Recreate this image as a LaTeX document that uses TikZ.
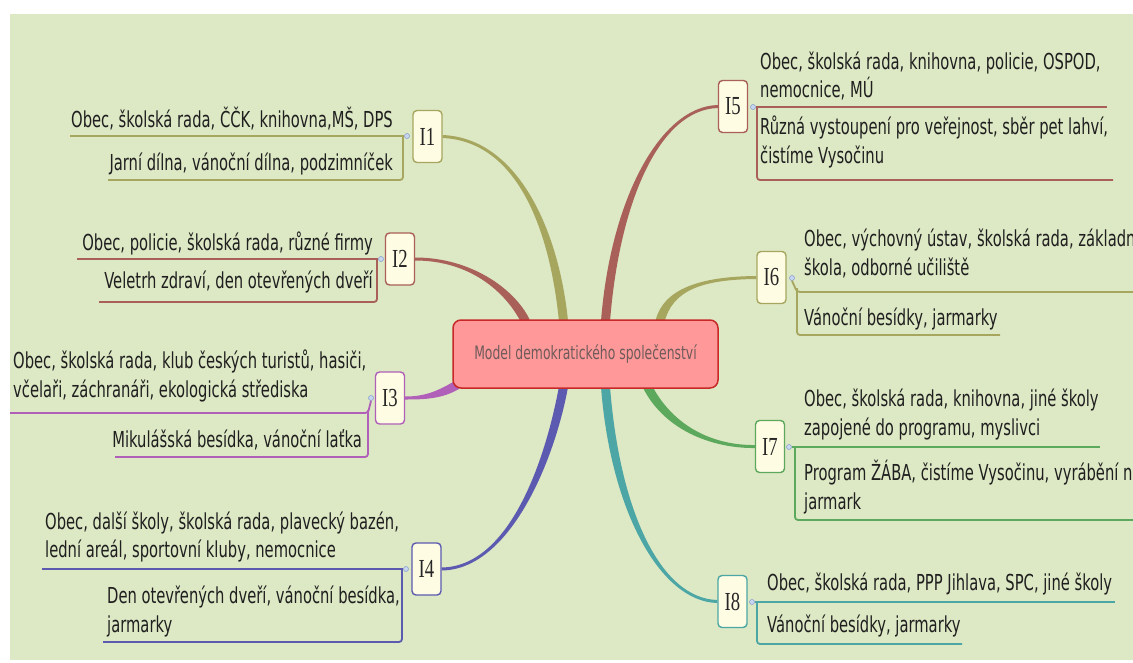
\documentclass[tikz,border=0pt]{standalone}
\usepackage{fontspec}
\setmainfont{DejaVu Sans}
\newfontfamily\itemfont{DejaVu Sans}[FakeStretch=0.67]
\newfontfamily\topicfont{Liberation Serif}[FakeStretch=0.72]
\usetikzlibrary{calc}

\definecolor{paper}{RGB}{221,232,196}
\definecolor{olive}{RGB}{166,166,94}
\definecolor{rust}{RGB}{168,96,88}
\definecolor{plum}{RGB}{176,96,184}
\definecolor{indigo}{RGB}{92,90,176}
\definecolor{leaf}{RGB}{92,168,92}
\definecolor{teal}{RGB}{76,166,166}
\definecolor{cream}{RGB}{255,252,228}
\definecolor{rosefill}{RGB}{255,153,153}
\definecolor{roseedge}{RGB}{200,40,40}
\definecolor{centretext}{RGB}{110,90,90}
\definecolor{knobfill}{RGB}{200,214,240}
\definecolor{knobedge}{RGB}{130,155,205}

\pgfdeclarelayer{backdrop}
\pgfdeclarelayer{branches}
\pgfsetlayers{backdrop,branches,main}

\tikzset{
  item/.style={inner sep=0pt, align=left, text=black!88,
    font=\itemfont\fontsize{22}{28.5}\selectfont},
  topic/.style={draw=#1, fill=cream, rounded corners=4pt, line width=1.4pt,
    minimum width=29pt, minimum height=52pt, inner sep=0pt,
    font=\topicfont\fontsize{26}{26}\selectfont, text=black!85},
  centre/.style={draw=roseedge, fill=rosefill, rounded corners=8pt,
    line width=1.5pt, minimum width=265pt, minimum height=68pt,
    font=\itemfont\fontsize{18.5}{20}\selectfont, text=centretext},
  uline/.style={draw=#1, line width=1.8pt, rounded corners=3pt},
  knob/.style={circle, draw=knobedge, fill=knobfill, inner sep=0pt,
    minimum size=5pt, line width=0.5pt},
}

% tapered branch: colour, start, control 1, control 2, end
\newcommand\branchto[5]{%
  \coordinate (sA) at ($(#2)!4.5pt!90:(#3)$);
  \coordinate (sB) at ($(#2)!4.5pt!-90:(#3)$);
  \coordinate (eA) at ($(#5)!1.5pt!-90:(#4)$);
  \coordinate (eB) at ($(#5)!1.5pt!90:(#4)$);
  \coordinate (kA1) at ($(#3)+(sA)-(#2)$);
  \coordinate (kB1) at ($(#3)+(sB)-(#2)$);
  \coordinate (kA2) at ($(#4)+(eA)-(#5)$);
  \coordinate (kB2) at ($(#4)+(eB)-(#5)$);
  \fill[#1] (sA) .. controls (kA1) and (kA2) .. (eA) -- (eB)
    .. controls (kB2) and (kB1) .. (sB) -- cycle;
}

\begin{document}
\begin{tikzpicture}[x=1pt, y=-1pt]
\clip (0,0) rectangle (1133,662);
\begin{pgfonlayer}{backdrop}
  \fill[white] (0,0) rectangle (1133,662);
  \fill[paper] (10,14) rectangle (1133,660);
\end{pgfonlayer}

% central topic
\node[centre] (c) at (585.5,354) {Model demokratického společenství};

% main topics
\node[topic=olive]  (i1) at (427.5,136.5) {I1};
\node[topic=rust]   (i2) at (400,259)     {I2};
\node[topic=plum]   (i3) at (390,398)     {I3};
\node[topic=indigo] (i4) at (426.5,569)   {I4};
\node[topic=rust]   (i5) at (733,106.5)   {I5};
\node[topic=olive]  (i6) at (771.5,277.5) {I6};
\node[topic=leaf]   (i7) at (770,446.5)   {I7};
\node[topic=teal]   (i8) at (732.5,601.5) {I8};

% branches from the centre
\begin{pgfonlayer}{branches}
  \coordinate (b1) at ($(c.north)+(-22,2)$);
  \coordinate (b2) at ($(c.north)+(-60,2)$);
  \coordinate (b3) at ($(c.south west)+(5,-4)$);
  \coordinate (b4) at ($(c.south)+(-22,-2)$);
  \coordinate (b5) at ($(c.north)+(20,2)$);
  \coordinate (b6) at ($(c.north)+(74.5,2)$);
  \coordinate (b7) at ($(c.south)+(62,-2)$);
  \coordinate (b8) at ($(c.south)+(20,-2)$);
  \branchto{olive}{b1}{555,235}{520,140}{i1.east}
  \branchto{rust}{b2}{510,290}{470,259}{i2.east}
  \branchto{plum}{b3}{440,395}{425,398}{i3.east}
  \branchto{indigo}{b4}{550,460}{510,568}{i4.east}
  \branchto{rust}{b5}{615,200}{660,108}{i5.west}
  \branchto{olive}{b6}{668,290}{700,278}{i6.west}
  \branchto{leaf}{b7}{670,430}{715,447}{i7.west}
  \branchto{teal}{b8}{615,510}{660,600}{i8.west}
\end{pgfonlayer}

% I1
\node[item, anchor=base east] (t1a) at (393,127) {Obec, školská rada, ČČK, knihovna,MŠ, DPS};
\node[item, anchor=base east] (t1b) at (393,170) {Jarní dílna, vánoční dílna, podzimníček};
\node[knob] (k1) at (407,136) {};
\draw[uline=olive] (k1.west) -- (70,136);
\draw[uline=olive] (403,136) -- (403,180) -- (108,180);

% I2
\node[item, anchor=base east] (t2a) at (373,250) {Obec, policie, školská rada, různé firmy};
\node[item, anchor=base east] (t2b) at (373,288) {Veletrh zdraví, den otevřených dveří};
\node[knob] (k2) at (381,259) {};
\draw[uline=rust] (k2.west) -- (77,259);
\draw[uline=rust] (377,259) -- (377,302) -- (99,302);

% I3
\node[item, anchor=base west] (t3a) at (13,397) {Obec, školská rada, klub českých turistů, hasiči,\\včelaři, záchranáři, ekologická střediska};
\node[item, anchor=base east] (t3b) at (362,447) {Mikulášská besídka, vánoční laťka};
\node[knob] (k3) at (371,398) {};
\draw[uline=plum] (k3.south) -- (368,413) -- (10,413);
\draw[uline=plum] (368,410) -- (368,457) -- (115,457);

% I4
\node[item, anchor=base west] (t4a) at (45,557.5) {Obec, další školy, školská rada, plavecký bazén,\\lední areál, sportovní kluby, nemocnice};
\node[item, anchor=base west] (t4b) at (107,632) {Den otevřených dveří, vánoční besídka,\\jarmarky};
\node[knob] (k4) at (406,569) {};
\draw[uline=indigo] (k4.west) -- (42,569);
\draw[uline=indigo] (402,569) -- (402,642) -- (103,642);

% I5
\node[item, anchor=base west] (t5a) at (760,97.5) {Obec, školská rada, knihovna, policie, OSPOD,\\nemocnice, MÚ};
\node[item, anchor=base west] (t5b) at (760,163) {Různá vystoupení pro veřejnost, sběr pet lahví,\\čistíme Vysočinu};
\node[knob] (k5) at (753,107) {};
\draw[uline=rust] (k5.east) -- (1107,107);
\draw[uline=rust] (757,107) -- (757,180) -- (1113,180);

% I6
\node[item, anchor=base west] (t6a) at (804,275) {Obec, výchovný ústav, školská rada, základní\\škola, odborné učiliště};
\node[item, anchor=base west] (t6b) at (804,325) {Vánoční besídky, jarmarky};
\node[knob] (k6) at (792,278) {};
\draw[uline=olive] (k6.south) -- (797,292) -- (1140,292);
\draw[uline=olive] (797,288) -- (797,335) -- (1000,335);

% I7
\node[item, anchor=base west] (t7a) at (804,435) {Obec, školská rada, knihovna, jiné školy\\zapojené do programu, myslivci};
\node[item, anchor=base west] (t7b) at (804,509) {Program ŽÁBA, čistíme Vysočinu, vyrábění na\\jarmark};
\node[knob] (k7) at (789,447) {};
\draw[uline=leaf] (k7.east) -- (1100,447);
\draw[uline=leaf] (795,447) -- (795,520) -- (1140,520);

% I8
\node[item, anchor=base west] (t8a) at (767,590) {Obec, školská rada, PPP Jihlava, SPC, jiné školy};
\node[item, anchor=base west] (t8b) at (767,632) {Vánoční besídky, jarmarky};
\node[knob] (k8) at (752,602) {};
\draw[uline=teal] (k8.east) -- (1115,602);
\draw[uline=teal] (757,602) -- (757,644) -- (962,644);
\end{tikzpicture}
\end{document}
